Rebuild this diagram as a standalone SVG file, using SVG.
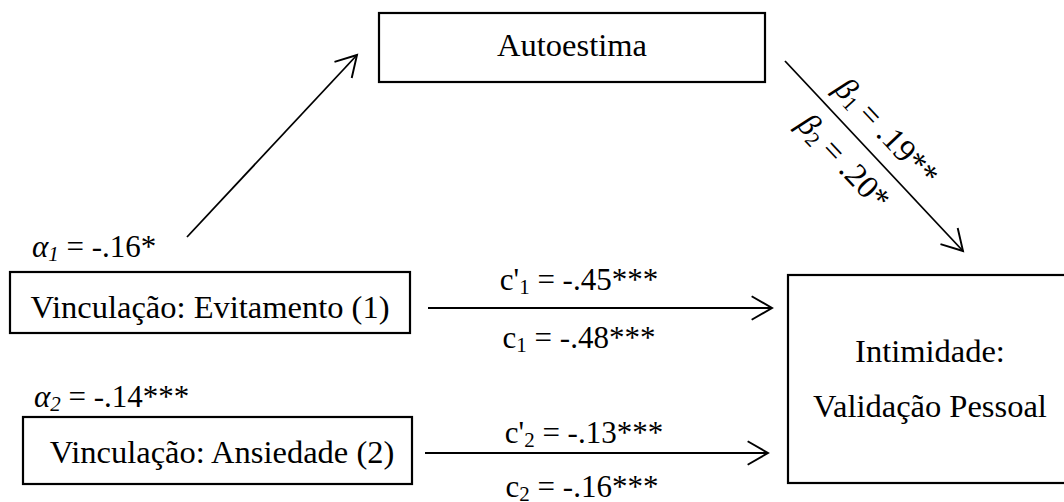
<svg xmlns="http://www.w3.org/2000/svg" width="1064" height="502" viewBox="0 0 1064 502">
<defs>
<style>
text{font-family:"Liberation Serif","Times New Roman",serif;font-size:32.5px;fill:#000}
.box{fill:#fff;stroke:#000;stroke-width:2.2}
.arr{fill:none;stroke:#000;stroke-width:1.8}
.it{font-style:italic}
.sub{font-size:21px}
.mid{text-anchor:middle}
.lab{font-size:31px}
</style>
<marker id="ah" markerUnits="userSpaceOnUse" markerWidth="30" markerHeight="30" viewBox="-22 -14 26 28" refX="0" refY="0" orient="auto">
<path d="M-19,-11 L0,0 L-19,11" fill="none" stroke="#000" stroke-width="1.8"/>
</marker>
</defs>
<rect width="1064" height="502" fill="#fff"/>
<g id="autoestima">
<rect class="box" x="379" y="13" width="386" height="69"/>
<text class="mid" x="572" y="56">Autoestima</text>
</g>
<g id="evitamento">
<rect class="box" x="10" y="272" width="400" height="61"/>
<text class="mid" x="210" y="318">Vinculação: Evitamento (1)</text>
</g>
<g id="ansiedade">
<rect class="box" x="23" y="417" width="389" height="67"/>
<text class="mid" x="222" y="463">Vinculação: Ansiedade (2)</text>
</g>
<g id="intimidade">
<rect class="box" x="788" y="275" width="300" height="208"/>
<text class="mid" x="930" y="362">Intimidade:</text>
<text class="mid" x="930" y="417">Validação Pessoal</text>
</g>
<g id="connectors">
<line class="arr" x1="187" y1="237" x2="357" y2="55" marker-end="url(#ah)"/>
<line class="arr" x1="785" y1="61" x2="963" y2="251" marker-end="url(#ah)"/>
<line class="arr" x1="428" y1="308" x2="772" y2="308" marker-end="url(#ah)"/>
<line class="arr" x1="425" y1="453" x2="768" y2="453" marker-end="url(#ah)"/>
</g>
<g id="labels">
<text class="lab" x="32" y="257"><tspan class="it">α</tspan><tspan class="it sub" dy="4">1</tspan><tspan dy="-4"> = -.16*</tspan></text>
<text class="lab" x="34" y="407"><tspan class="it">α</tspan><tspan class="it sub" dy="4">2</tspan><tspan dy="-4"> = -.14***</tspan></text>
<text class="mid lab" x="579" y="290">c'<tspan class="sub" dy="4">1</tspan><tspan dy="-4"> = -.45***</tspan></text>
<text class="mid lab" x="579" y="348">c<tspan class="sub" dy="4">1</tspan><tspan dy="-4"> = -.48***</tspan></text>
<text class="mid lab" x="584" y="443">c'<tspan class="sub" dy="4">2</tspan><tspan dy="-4"> = -.13***</tspan></text>
<text class="mid lab" x="582" y="497">c<tspan class="sub" dy="4">2</tspan><tspan dy="-4"> = -.16***</tspan></text>
<text class="mid" transform="translate(879,139) rotate(46.9)"><tspan class="it">β</tspan><tspan class="sub" dy="4">1</tspan><tspan dy="-4"> = .19**</tspan></text>
<text class="mid" transform="translate(836,169) rotate(46.9)"><tspan class="it">β</tspan><tspan class="sub" dy="4">2</tspan><tspan dy="-4"> = .20*</tspan></text>
</g>
</svg>
